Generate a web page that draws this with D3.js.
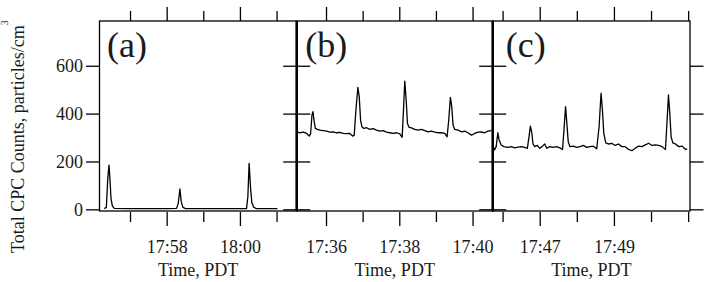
<!DOCTYPE html>
<html>
<head>
<meta charset="utf-8">
<script src="https://cdnjs.cloudflare.com/ajax/libs/d3/7.8.5/d3.min.js"></script>
<style>
  body { margin: 0; background: #fff; }
  svg { display: block; }
  text { font-family: "Liberation Serif", "Times New Roman", serif; fill: #1a1a1a; }
</style>
</head>
<body>
<div id="chart"></div>
<script>
// y axis
const yTicks = [0, 200, 400, 600];
const yDomain = [-7, 787];

// panel names, visible time windows and labelled minutes
const panelNames = ["(a)", "(b)", "(c)"];
const panelStart = ["17:56:10", "17:35:12", "17:45:44"];
const panelEnd = ["18:01:33", "17:40:33", "17:51:03"];
const panelBase = ["17:56:00", "17:35:00", "17:45:00"];
const labelsA = ["17:58", "18:00"];
const labelsB = ["17:36", "17:38", "17:40"];
const labelsC = ["17:47", "17:49"];

// series: seconds after panelBase, counts in particles/cm3
const secA = [17.9, 21.2, 23.4, 25.5, 27.2, 28.8, 31, 34.3, 60, 90, 120, 136.2, 139, 141.7, 143.9, 146.6, 151, 180, 210, 240, 250.8, 253, 255.1, 257.3, 259.5, 262.8, 267.1, 301.5];
const valA = [3, 8, 122, 185, 122, 46, 14, 4, 3, 3, 3, 4, 25, 85, 32, 8, 3, 3, 3, 3, 3, 53, 192, 95, 28, 8, 3, 3];

const secB = [12, 17.4, 22.8, 28.3, 32.7, 34.8, 37, 38.7, 40.3, 42.5, 45.7, 50.1, 55.6, 61, 66.5, 72, 77.4, 82.8, 88.2, 93.7, 99.2, 103.5, 106.2, 109, 112.2, 114.4, 116.6, 118.8, 122, 126.4, 131.8, 137.3, 142.7, 148.2, 153.6, 159.1, 164.5, 170, 175.5, 180.9, 184.7, 186.9, 189, 191.3, 193.4, 196.2, 200, 205.4, 210.9, 216.3, 221.8, 227.2, 232.7, 238.1, 243.6, 249, 254.5, 258.3, 261, 263.7, 265.9, 268.1, 270.8, 276.3, 281.7, 287.2, 292.6, 298.1, 303.5, 309, 314.4, 319.9, 325.3, 330.8];
const valB = [324, 320, 323, 317, 306, 317, 394, 408, 373, 338, 334, 331, 329, 327, 323, 324, 320, 322, 317, 316, 317, 306, 310, 415, 510, 471, 373, 345, 338, 341, 334, 337, 331, 327, 329, 323, 320, 317, 320, 315, 301, 415, 536, 457, 359, 342, 340, 334, 331, 334, 329, 324, 327, 323, 320, 320, 317, 303, 373, 468, 429, 352, 334, 331, 324, 327, 320, 310, 317, 323, 324, 320, 327, 329];

const secC = [45.5, 46.9, 49.6, 52.3, 54.4, 57.7, 62, 68.5, 74, 79.4, 84.8, 90.2, 95.6, 100, 102.7, 104.9, 107, 109.2, 111.9, 116.2, 120, 123.8, 128.2, 131.4, 136.3, 141.7, 147.1, 152.6, 156.9, 159.6, 161.8, 163.9, 166.1, 168.8, 174.2, 179.7, 185.1, 190.5, 195.9, 201.3, 206.8, 212.2, 216, 219.2, 221.4, 223.6, 226.8, 231.1, 236.6, 242, 247.4, 252.8, 258.2, 263.7, 269.1, 274.5, 279.9, 285.3, 290.8, 296.2, 301.6, 307, 312.4, 317.9, 323.3, 325.4, 328.2, 330.3, 332.5, 335.2, 339.5, 345, 350.4, 355.8, 358.5];
const valC = [258, 248, 262, 320, 290, 269, 262, 259, 262, 257, 260, 262, 259, 255, 303, 348, 324, 273, 262, 267, 255, 262, 273, 255, 262, 259, 262, 257, 250, 345, 429, 359, 283, 262, 264, 259, 262, 267, 259, 262, 264, 253, 345, 485, 415, 317, 278, 273, 276, 267, 273, 262, 262, 250, 245, 255, 264, 262, 269, 276, 267, 269, 267, 262, 250, 345, 478, 401, 303, 278, 273, 262, 264, 250, 253];

const panels = [
    { name: panelNames[0], start: panelStart[0], end: panelEnd[0], base: panelBase[0], labels: labelsA, sec: secA, val: valA },
    { name: panelNames[1], start: panelStart[1], end: panelEnd[1], base: panelBase[1], labels: labelsB, sec: secB, val: valB },
    { name: panelNames[2], start: panelStart[2], end: panelEnd[2], base: panelBase[2], labels: labelsC, sec: secC, val: valC }
];

const width = 704, height = 282;
const plotTop = 21, plotBottom = 211;
const edges = [99.5, 296.7, 492.7, 690];
const nameOffset = [7.5, 8.5, 13];
const majorLen = 14, minorLen = 10, yTickLen = 13.5;

const parse = d3.timeParse("%H:%M:%S");
const fmt = d3.timeFormat("%H:%M");

const svg = d3.select("#chart").append("svg")
    .attr("width", width)
    .attr("height", height);

const y = d3.scaleLinear().domain(yDomain).range([plotBottom, plotTop]);

panels.forEach((p, i) => {
    const x0 = edges[i], x1 = edges[i + 1];
    const x = d3.scaleTime().domain([parse(p.start), parse(p.end)]).range([x0, x1]);
    const base = parse(p.base);
    const pts = p.sec.map((s, j) => ({ t: new Date(+base + s * 1000), v: p.val[j] }));
    const minutes = x.ticks(d3.timeMinute.every(1));
    const isMajor = d => p.labels.includes(fmt(d));

    // data line
    svg.append("path")
        .datum(pts)
        .attr("fill", "none")
        .attr("stroke", "#000")
        .attr("stroke-width", 1.3)
        .attr("stroke-linejoin", "round")
        .attr("d", d3.line().x(d => x(d.t)).y(d => y(d.v)));

    // bottom time axis
    const gb = svg.append("g")
        .attr("transform", `translate(0,${plotBottom})`)
        .call(d3.axisBottom(x).tickValues(minutes).tickSize(majorLen)
            .tickFormat(d => isMajor(d) ? fmt(d) : ""));
    gb.select(".domain").remove();
    gb.selectAll(".tick line").attr("y1", 1).attr("y2", d => isMajor(d) ? majorLen + 1 : minorLen + 1)
        .attr("stroke-width", 1.3);
    gb.selectAll(".tick text").attr("y", 41.5).attr("dy", 0).style("font-size", "18px");

    // top ticks
    const gt = svg.append("g")
        .attr("transform", `translate(0,${plotTop})`)
        .call(d3.axisTop(x).tickValues(minutes).tickSize(majorLen).tickFormat(""));
    gt.select(".domain").remove();
    gt.selectAll(".tick line").attr("y2", d => isMajor(d) ? -majorLen : -minorLen)
        .attr("stroke-width", 1.3);

    // axis title
    svg.append("text")
        .attr("x", (x0 + x1) / 2)
        .attr("y", 276)
        .attr("text-anchor", "middle")
        .style("font-size", "18px")
        .text("Time, PDT");

    // panel letter
    svg.append("text")
        .attr("x", x0 + nameOffset[i])
        .attr("y", 57)
        .style("font-size", "36px")
        .text(p.name);

    // frame
    svg.append("rect")
        .attr("x", x0).attr("y", plotTop)
        .attr("width", x1 - x0).attr("height", plotBottom - plotTop)
        .attr("fill", "none").attr("stroke", "#000").attr("stroke-width", 1.3);
});

// y ticks on every panel border
edges.forEach((ex, k) => {
    if (k < edges.length - 1) {
        const gl = svg.append("g")
            .attr("transform", `translate(${ex},0)`)
            .call(d3.axisLeft(y).tickValues(yTicks).tickSize(yTickLen)
                .tickFormat(k === 0 ? d3.format("d") : ""));
        gl.select(".domain").remove();
        gl.selectAll(".tick line").attr("stroke-width", 1.3);
        gl.selectAll(".tick text").style("font-size", "18px");
    }
    if (k > 0) {
        const gr = svg.append("g")
            .attr("transform", `translate(${ex},0)`)
            .call(d3.axisRight(y).tickValues(yTicks).tickSize(yTickLen).tickFormat(""));
        gr.select(".domain").remove();
        gr.selectAll(".tick line").attr("stroke-width", 1.3);
    }
    if (k > 0 && k < edges.length - 1) {
        // shared border between two panels looks heavier
        svg.append("line")
            .attr("x1", ex).attr("x2", ex)
            .attr("y1", plotTop).attr("y2", plotBottom)
            .attr("stroke", "#000").attr("stroke-width", 2.6);
    }
});

// y axis title
const ylab = svg.append("text")
    .attr("transform", "translate(24,253) rotate(-90)")
    .style("font-size", "18px");
ylab.append("tspan").text("Total CPC Counts, particles/cm");
ylab.append("tspan").attr("dy", -16).style("font-size", "10px").text("3");
</script>
</body>
</html>
